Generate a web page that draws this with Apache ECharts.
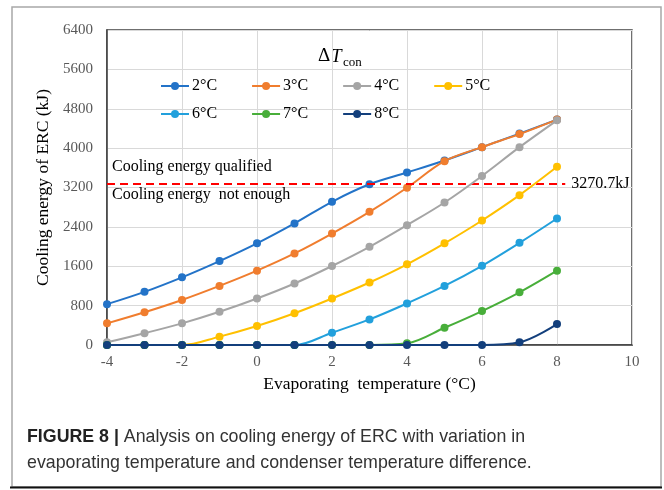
<!DOCTYPE html>
<html>
<head>
<meta charset="utf-8">
<script src="https://cdn.jsdelivr.net/npm/echarts@6/dist/echarts.min.js"></script>
<style>
  html, body { margin: 0; padding: 0; background: #fff; }
  #chart { width: 664px; height: 490px; }
</style>
</head>
<body>
<div id="chart"></div>
<script>
// evaporating temperature (°C)
const temps = [-4, -3, -2, -1, 0, 1, 2, 3, 4, 5, 6, 7, 8];
// cooling energy (kJ) for each condenser temperature difference
const dT2 = [830, 1080, 1375, 1705, 2065, 2470, 2910, 3265, 3505, 3750, 4020, 4295, 4580];
const dT3 = [440, 665, 915, 1200, 1510, 1860, 2265, 2705, 3195, 3735, 4020, 4285, 4580];
const dT4 = [55, 240, 440, 675, 945, 1250, 1605, 1995, 2435, 2895, 3435, 4020, 4565];
const dT5 = [0, 0, 0, 170, 385, 645, 945, 1270, 1640, 2065, 2530, 3045, 3620];
const dT6 = [0, 0, 0, 0, 0, 0, 250, 520, 845, 1200, 1610, 2075, 2570];
const dT7 = [0, 0, 0, 0, 0, 0, 0, 0, 35, 350, 690, 1070, 1510];
const dT8 = [0, 0, 0, 0, 0, 0, 0, 0, 0, 0, 0, 55, 425];
const seriesNames = ['2°C', '3°C', '4°C', '5°C', '6°C', '7°C', '8°C'];
const threshold = 3270.7;

const serif = 'Liberation Serif';
const colors = ['#2373C8', '#F07D2E', '#A5A5A5', '#FFC000', '#22A0DC', '#48AE3A', '#133F7C'];
const allData = [dT2, dT3, dT4, dT5, dT6, dT7, dT8];

const series = allData.map((vals, i) => ({
    name: seriesNames[i],
    type: 'line',
    smooth: 0.35,
    symbol: 'circle',
    symbolSize: 8,
    lineStyle: { width: 2, color: colors[i] },
    itemStyle: { color: colors[i] },
    data: temps.map((t, k) => [t, vals[k]]),
    z: 3 + i
}));

// dashed threshold line with its notes
const hidden = { color: 'rgba(0,0,0,0)', width: 1 };
const noteLabel = { show: true, color: '#000', fontFamily: serif, fontSize: 16 };
series[0].markLine = {
    silent: true,
    symbol: 'none',
    animation: false,
    data: [
        [
            { coord: [temps[0], threshold], lineStyle: { color: '#FF0000', type: [8, 5], width: 2 },
              label: Object.assign({}, noteLabel, { position: 'end', formatter: '3270.7kJ', distance: 6 }) },
            { coord: [8.22, threshold] }
        ],
        [
            { coord: [temps[0], threshold], lineStyle: hidden,
              label: Object.assign({}, noteLabel, { position: 'insideStartTop', formatter: 'Cooling energy qualified', distance: [5, 9] }) },
            { coord: [8.22, threshold] }
        ],
        [
            { coord: [temps[0], threshold], lineStyle: hidden,
              label: Object.assign({}, noteLabel, { position: 'insideStartBottom', formatter: 'Cooling energy  not enough', distance: [5, 3] }) },
            { coord: [8.22, threshold] }
        ]
    ]
};

const legendBase = {
    itemWidth: 28, itemHeight: 10, itemGap: 34, padding: 0,
    textStyle: { fontFamily: serif, fontSize: 16, color: '#000', padding: [0, 0, 0, -2] }
};

const chart = echarts.init(document.getElementById('chart'));
chart.setOption({
    animation: false,
    backgroundColor: '#fff',
    color: colors,
    grid: { left: 107, top: 30, right: 32, bottom: 145, show: true, borderColor: '#404040', borderWidth: 1.5, backgroundColor: 'transparent' },
    legend: [
        Object.assign({ data: seriesNames.slice(0, 4), left: 160, top: 78 }, legendBase),
        Object.assign({ data: seriesNames.slice(4), left: 160, top: 106 }, legendBase)
    ],
    xAxis: {
        type: 'value', min: -4, max: 10, interval: 2,
        name: 'Evaporating  temperature (°C)', nameLocation: 'middle', nameGap: 30,
        nameTextStyle: { fontFamily: serif, fontSize: 17.5, color: '#000' },
        axisLine: { show: true, onZero: false, lineStyle: { color: '#404040', width: 1.5 } },
        axisTick: { show: false },
        axisLabel: { fontFamily: serif, fontSize: 15, color: '#595959', margin: 10 },
        splitLine: { show: true, lineStyle: { color: '#D9D9D9', width: 1 } }
    },
    yAxis: {
        type: 'value', min: 0, max: 6400, interval: 800,
        name: 'Cooling energy of ERC (kJ)', nameLocation: 'middle', nameGap: 47, nameRotate: 90,
        nameTextStyle: { fontFamily: serif, fontSize: 17.5, color: '#000' },
        axisLine: { show: true, onZero: false, lineStyle: { color: '#404040', width: 1.5 } },
        axisTick: { show: false },
        axisLabel: { fontFamily: serif, fontSize: 15, color: '#595959', margin: 14, formatter: v => String(v) },
        splitLine: { show: true, lineStyle: { color: '#D9D9D9', width: 1 } }
    },
    graphic: [
        // figure frame
        { type: 'rect', shape: { x: 12, y: 7, width: 649, height: 480 }, style: { fill: 'none', stroke: '#A8A8A8', lineWidth: 1.5 }, silent: true },
        { type: 'line', shape: { x1: 10, y1: 487.5, x2: 662, y2: 487.5 }, style: { stroke: '#111', lineWidth: 2 }, silent: true },
        // legend title ΔT_con
        { type: 'text', left: 318, top: 47, style: { text: 'Δ', fontFamily: serif, fontSize: 19, fill: '#000' } },
        { type: 'text', left: 331, top: 47, style: { text: 'T', fontFamily: serif, fontStyle: 'italic', fontSize: 19, fill: '#000' } },
        { type: 'text', left: 343, top: 56, style: { text: 'con', fontFamily: serif, fontSize: 13, fill: '#000' } },
        // caption
        {
            type: 'text', left: 27, top: 424,
            style: {
                text: '{b|FIGURE 8 |} Analysis on cooling energy of ERC with variation in\nevaporating temperature and condenser temperature difference.',
                fontFamily: 'Liberation Sans', fontSize: 17.8, fill: '#333', lineHeight: 26,
                rich: { b: { fontFamily: 'Liberation Sans', fontWeight: 'bold', fontSize: 17.8, fill: '#222' } }
            }
        }
    ],
    series: series
});
</script>
</body>
</html>
